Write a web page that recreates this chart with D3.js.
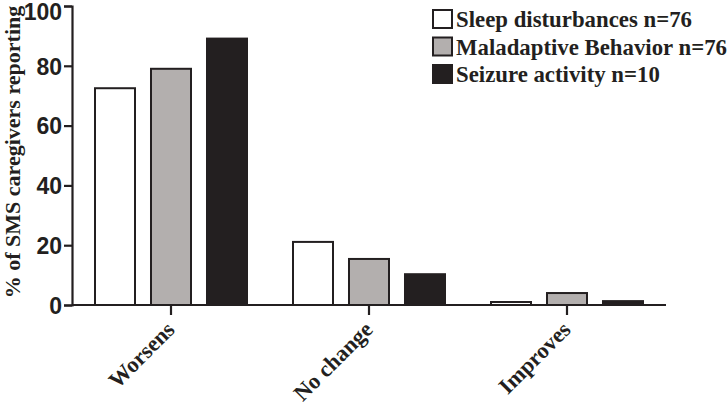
<!DOCTYPE html>
<html><head><meta charset="utf-8">
<script src="https://cdn.jsdelivr.net/npm/d3@7"></script>
<style>body{margin:0;background:#fff}svg{display:block}</style>
</head><body><svg id="c" width="727" height="407"></svg>
<script>
const categories = ["Worsens", "No change", "Improves"];
const seriesNames = ["Sleep disturbances n=76", "Maladaptive Behavior n=76", "Seizure activity n=10"];
const sleep = [72.5, 21.1, 1.0];
const maladaptive = [79.0, 15.4, 4.0];
const seizure = [89.1, 10.3, 1.3];
const yTicks = [0, 20, 40, 60, 80, 100];
const yTitle = "% of SMS caregivers reporting";

const fills = ["#ffffff", "#b3afae", "#231f20"];
const ink = "#231f20";
const serif = "'Liberation Serif', 'Times New Roman', serif";
const series = [sleep, maladaptive, seizure];

const svg = d3.select("#c");
const x0 = 72, x1 = 666, yBase = 305, yTop = 6;
const y = d3.scaleLinear().domain([0, 100]).range([yBase, yTop]);
const x = d3.scaleBand().domain(categories).range([x0, x1]).paddingInner(0).paddingOuter(0);
const xs = d3.scaleBand().domain(d3.range(series.length)).range([-76, 76]).paddingInner(0.2857).paddingOuter(0);

// bars
categories.forEach((c, ci) => {
  series.forEach((s, si) => {
    const cx = x(c) + x.bandwidth() / 2;
    svg.append("rect")
      .attr("x", cx + xs(si))
      .attr("y", y(s[ci]))
      .attr("width", xs.bandwidth())
      .attr("height", yBase - y(s[ci]))
      .attr("fill", fills[si])
      .attr("stroke", ink)
      .attr("stroke-width", 2);
  });
});

// y axis
const ya = svg.append("g").attr("transform", `translate(${x0},0)`)
  .call(d3.axisLeft(y).tickValues(yTicks).tickSize(8).tickPadding(2));
ya.select(".domain").attr("stroke", ink).attr("stroke-width", 2.2);
ya.selectAll(".tick line").attr("stroke", ink).attr("stroke-width", 2.2);
ya.selectAll(".tick text")
  .attr("font-family", "'Liberation Sans', Arial, sans-serif")
  .attr("font-weight", "bold").attr("font-size", 23)
  .attr("fill", ink).attr("dy", d => d === 100 ? "0.6em" : "0.36em");

// x axis
const xa = svg.append("g").attr("transform", `translate(0,${yBase})`)
  .call(d3.axisBottom(x).tickSize(10).tickFormat(""));
xa.select(".domain").attr("stroke", ink).attr("stroke-width", 2.2).attr("d", `M${x0},0H${x1}`);
xa.selectAll(".tick line").attr("stroke", ink).attr("stroke-width", 2.2);
xa.selectAll(".tick").append("text")
  .text(d => d)
  .attr("font-family", serif)
  .attr("font-weight", "bold").attr("font-size", 22.5)
  .attr("fill", ink).attr("text-anchor", "end")
  .attr("transform", "translate(5,26) rotate(-45)");

// y title
svg.append("text")
  .text(yTitle)
  .attr("font-family", serif)
  .attr("font-weight", "bold").attr("font-size", 22)
  .attr("fill", ink).attr("text-anchor", "middle")
  .attr("transform", "translate(19.5,152) rotate(-90)");

// legend
const lg = svg.append("g").attr("transform", "translate(433,10)");
seriesNames.forEach((n, i) => {
  const g = lg.append("g").attr("transform", `translate(0,${i * 27.5})`);
  g.append("rect").attr("x", 0).attr("y", 0).attr("width", 19).attr("height", 18)
    .attr("fill", fills[i]).attr("stroke", ink).attr("stroke-width", 2);
  g.append("text").text(n).attr("x", 23).attr("y", 17)
    .attr("font-family", serif)
    .attr("font-weight", "bold").attr("font-size", 22.8).attr("fill", ink);
});
</script></body></html>
